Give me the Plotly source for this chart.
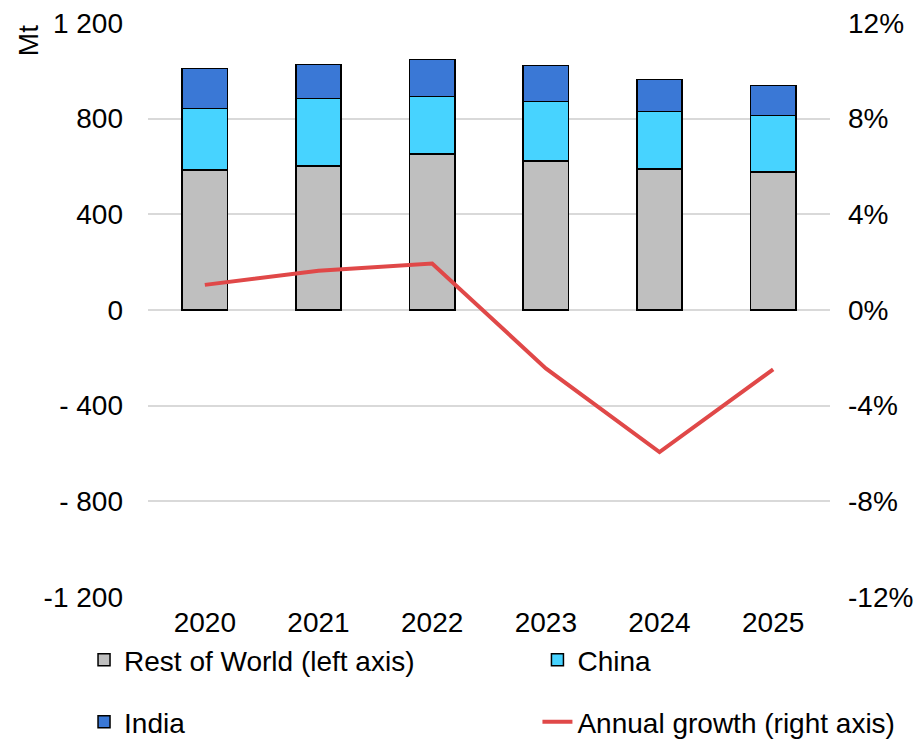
import plotly.graph_objects as go

years = ["2020", "2021", "2022", "2023", "2024", "2025"]
rest_of_world = [585, 602, 653, 623, 589, 577]
china = [257, 282, 240, 249, 240, 236]
india = [168, 143, 155, 151, 135, 126]
growth = [1.05, 1.64, 1.94, -2.44, -5.94, -2.48]

left_ticks = [-1200, -800, -400, 0, 400, 800, 1200]
left_labels = ["-1 200", "- 800", "- 400", "0", "400", "800", "1 200"]
right_ticks = [-12, -8, -4, 0, 4, 8, 12]
right_labels = ["-12%", "-8%", "-4%", "0%", "4%", "8%", "12%"]

FONT = "Liberation Sans, Arial, sans-serif"
FS = 28
W, H = 916, 736  # page body adds 8px around the figure

fig = go.Figure()

bar_line = dict(color="black", width=1.5)
fig.add_trace(go.Bar(x=years, y=rest_of_world, name="Rest of World (left axis)",
                     marker=dict(color="#BFBFBF", line=bar_line), legend="legend"))
fig.add_trace(go.Bar(x=years, y=china, name="China",
                     marker=dict(color="#47D3FF", line=bar_line), legend="legend2"))
fig.add_trace(go.Bar(x=years, y=india, name="India",
                     marker=dict(color="#3A78D6", line=bar_line), legend="legend3"))
fig.add_trace(go.Scatter(x=years, y=growth, name="Annual growth (right axis)", yaxis="y2",
                         mode="lines", line=dict(color="#E04848", width=4), legend="legend4"))


def leg(x, y):
    return dict(xref="container", yref="container", x=x, y=y, xanchor="left",
                yanchor="middle", orientation="h", font=dict(size=FS),
                itemwidth=30, bgcolor="rgba(0,0,0,0)")


fig.update_layout(
    width=W, height=H,
    margin=dict(l=140, r=94, t=15, b=147, autoexpand=False),
    barmode="stack",
    bargap=0.6,
    showlegend=True,
    plot_bgcolor="white",
    paper_bgcolor="white",
    font=dict(family=FONT, size=FS, color="black"),
    xaxis=dict(type="category", categoryarray=years, range=[-0.5, 5.5],
               showline=False, ticks="", showgrid=False, ticklabelstandoff=6),
    xaxis2=dict(overlaying="x", anchor="free", position=0.5, side="bottom",
                range=[-0.5, 5.5], tickmode="array",
                tickvals=[i - 0.5 for i in range(len(years) + 1)],
                showticklabels=False, ticks="outside", ticklen=9, tickwidth=2,
                tickcolor="black", showline=True, linecolor="black", linewidth=2,
                showgrid=False, zeroline=False),
    yaxis=dict(range=[-1200, 1200], tickmode="array", tickvals=left_ticks,
               ticktext=left_labels, showgrid=True, gridcolor="#D9D9D9", gridwidth=1.5,
               zeroline=False, showline=False, ticks="", ticklabelstandoff=24,
               ticklabeloverflow="allow"),
    yaxis2=dict(range=[-12, 12], overlaying="y", side="right", tickmode="array",
                tickvals=right_ticks, ticktext=right_labels, showgrid=False,
                zeroline=False, showline=False, ticks="", ticklabelstandoff=17,
                ticklabeloverflow="allow"),
    legend=leg(0.083, 1 - 652 / H),
    legend2=leg(0.578, 1 - 652 / H),
    legend3=leg(0.083, 1 - 714 / H),
    legend4=leg(0.578, 1 - 714 / H),
    annotations=[dict(text="Mt", xref="paper", yref="paper", x=-0.176, y=0.97,
                      xanchor="center", yanchor="middle", textangle=-90, showarrow=False,
                      font=dict(size=FS))],
)

fig.write_html("out.html")
